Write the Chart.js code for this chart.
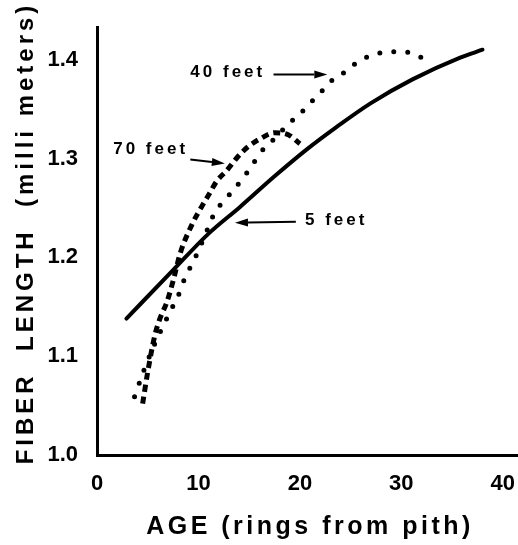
<!DOCTYPE html>
<html>
<head>
<meta charset="utf-8">
<script src="https://cdn.jsdelivr.net/npm/chart.js@4.4.1/dist/chart.umd.min.js"></script>
<style>
  html, body { margin: 0; padding: 0; background: #fff; }
  #wrap { position: relative; width: 518px; height: 545px; }
</style>
</head>
<body>
<div id="wrap"><canvas id="chart"></canvas></div>
<script>
// Valores: edad (anillos desde la médula) vs longitud de fibra (mm)
const age5 = [2.9, 7.4, 11, 14.1, 17.5, 20.65, 23.5, 27, 31.1, 35.8, 38];
const len5 = [1.138, 1.186, 1.224, 1.251, 1.282, 1.309, 1.331, 1.356, 1.38, 1.402, 1.41];

const age70 = [4.5, 5.0, 5.7, 6.2, 6.9, 7.6, 8.2, 9.4, 10.3, 11.0, 11.8, 12.8, 13.9, 14.9, 16.1, 17.5, 18.85, 20.0];
const len70 = [1.052, 1.084, 1.121, 1.138, 1.155, 1.18, 1.204, 1.234, 1.251, 1.263, 1.277, 1.288, 1.302, 1.312, 1.32, 1.326, 1.324, 1.315];

const age40 = [3.7, 4.6, 5.5, 6.4, 7.35, 8.0, 8.5, 9.0, 9.7, 10.8, 11.6, 12.6, 13.6, 14.6, 15.4, 16.2, 17.2, 19.0, 20.1, 21, 22, 22.9, 24, 25.2, 26.5, 28, 29.5, 30.9, 32.2];
const len40 = [1.059, 1.085, 1.108, 1.128, 1.148, 1.161, 1.175, 1.186, 1.2, 1.226, 1.245, 1.258, 1.27, 1.283, 1.295, 1.307, 1.317, 1.336, 1.346, 1.356, 1.366, 1.377, 1.384, 1.394, 1.402, 1.407, 1.408, 1.407, 1.401];

const xTicks = [0, 10, 20, 30, 40];
const yTicks = [1.0, 1.1, 1.2, 1.3, 1.4];

const X_TITLE = 'AGE (rings from pith)';
const Y_TITLE = 'FIBER  LENGTH  (milli meters)';

// Etiquetas con flecha, en coordenadas de datos
const LABELS = [
  { text: '40 feet', x: 9.2, y: 1.387, from: [17.4, 1.385], to: [22.7, 1.385] },
  { text: '70 feet', x: 1.6, y: 1.309, from: [9.2, 1.299], to: [12.6, 1.295] },
  { text: '5 feet', x: 20.5, y: 1.237, from: [19.6, 1.236], to: [13.6, 1.235] },
];

const FONT = '"Liberation Sans", Arial, Helvetica, sans-serif';

const toXY = (xs, ys) => xs.map((x, i) => ({ x, y: ys[i] }));

function drawArrow(ctx, x1, y1, x2, y2) {
  const ang = Math.atan2(y2 - y1, x2 - x1);
  const head = 13, half = 4;
  ctx.beginPath();
  ctx.moveTo(x1, y1);
  ctx.lineTo(x2 - head * Math.cos(ang), y2 - head * Math.sin(ang));
  ctx.lineWidth = 2;
  ctx.stroke();
  ctx.beginPath();
  ctx.moveTo(x2, y2);
  ctx.lineTo(x2 - head * Math.cos(ang) - half * Math.sin(ang), y2 - head * Math.sin(ang) + half * Math.cos(ang));
  ctx.lineTo(x2 - head * Math.cos(ang) + half * Math.sin(ang), y2 - head * Math.sin(ang) - half * Math.cos(ang));
  ctx.closePath();
  ctx.fill();
}

const textPlugin = {
  id: 'textPlugin',
  afterDraw(chart) {
    const { ctx, scales: { x, y } } = chart;
    ctx.save();
    ctx.fillStyle = '#000';
    ctx.strokeStyle = '#000';
    ctx.textBaseline = 'middle';

    // anotaciones
    ctx.font = 'bold 17px ' + FONT;
    ctx.letterSpacing = '3px';
    ctx.textAlign = 'left';
    LABELS.forEach((l) => {
      ctx.fillText(l.text, x.getPixelForValue(l.x), y.getPixelForValue(l.y));
      drawArrow(ctx,
        x.getPixelForValue(l.from[0]), y.getPixelForValue(l.from[1]),
        x.getPixelForValue(l.to[0]), y.getPixelForValue(l.to[1]));
    });

    // título eje X
    ctx.font = 'bold 25px ' + FONT;
    ctx.letterSpacing = '3.5px';
    ctx.textAlign = 'center';
    ctx.fillText(X_TITLE, 310, 527);

    // título eje Y
    ctx.font = 'bold 24px ' + FONT;
    ctx.translate(26, 235);
    ctx.rotate(-Math.PI / 2);
    ctx.letterSpacing = '4px';
    ctx.fillText(Y_TITLE, 2, 0);
    ctx.restore();
  },
};

const lineBase = {
  pointRadius: 0, pointHoverRadius: 0, fill: false, borderColor: '#000',
  cubicInterpolationMode: 'monotone',
};

new Chart(document.getElementById('chart'), {
  type: 'line',
  data: {
    datasets: [
      { ...lineBase, label: '5 feet', data: toXY(age5, len5), borderWidth: 4, borderCapStyle: 'round' },
      { ...lineBase, label: '70 feet', data: toXY(age70, len70), borderWidth: 5, borderDash: [7, 5], borderCapStyle: 'butt' },
      { ...lineBase, label: '40 feet', data: toXY(age40, len40), borderWidth: 5, borderDash: [0, 14], borderCapStyle: 'round' },
    ],
  },
  options: {
    responsive: true,
    maintainAspectRatio: false,
    animation: false,
    layout: { padding: { top: 27, right: 1, left: 0, bottom: 0 } },
    plugins: { legend: { display: false }, tooltip: { enabled: false } },
    scales: {
      x: {
        type: 'linear',
        min: 0,
        max: 41.4,
        grid: { display: false, drawTicks: false },
        border: { display: true, color: '#000', width: 3 },
        afterBuildTicks: (s) => { s.ticks = xTicks.map((v) => ({ value: v })); },
        afterFit: (s) => { s.height = 90; s.paddingLeft = 0; s.paddingRight = 0; },
        ticks: {
          padding: 16,
          color: '#000',
          font: { family: FONT, size: 22, weight: 'bold' },
          callback: (v) => String(v),
        },
      },
      y: {
        type: 'linear',
        min: 1.0,
        max: 1.433,
        grid: { display: false, drawTicks: false },
        border: { display: true, color: '#000', width: 3 },
        afterBuildTicks: (s) => { s.ticks = yTicks.map((v) => ({ value: v })); },
        afterFit: (s) => { s.width = 97; s.paddingTop = 0; s.paddingBottom = 0; },
        ticks: {
          padding: 19,
          color: '#000',
          font: { family: FONT, size: 22, weight: 'bold' },
          callback: (v) => v.toFixed(1),
        },
      },
    },
  },
  plugins: [textPlugin],
});
</script>
</body>
</html>
